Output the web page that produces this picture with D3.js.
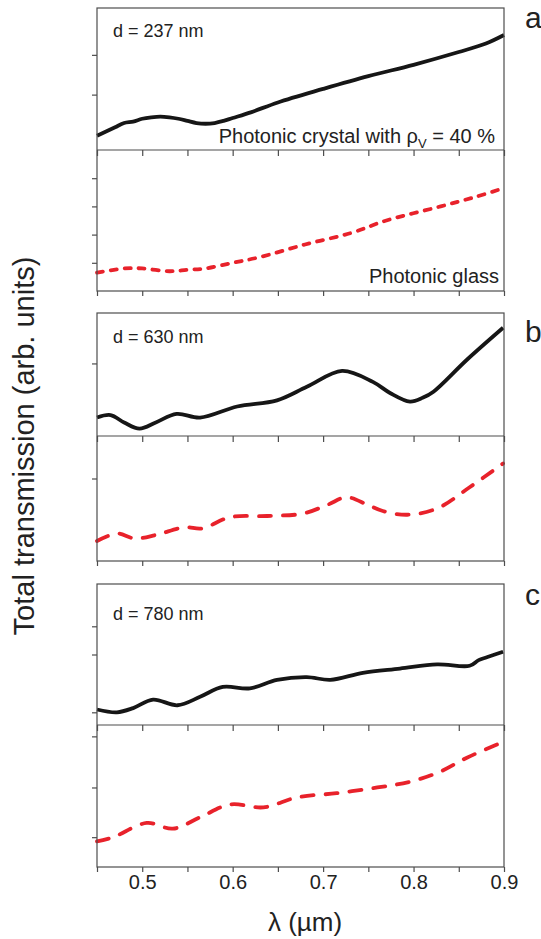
<!DOCTYPE html>
<html>
<head>
<meta charset="utf-8">
<script src="https://cdn.jsdelivr.net/npm/d3@7"></script>
<style>
  html, body { margin: 0; padding: 0; background: #fff; }
  svg { display: block; font-family: "Liberation Sans", Arial, sans-serif; }
</style>
</head>
<body>
<div id="chart"></div>
<script>
// wavelength axis (µm)
const xDomain = [0.45, 0.9];
const xMinorTicks = [0.45, 0.5, 0.55, 0.6, 0.65, 0.7, 0.75, 0.8, 0.85, 0.9];
const xTickLabels = [0.5, 0.6, 0.7, 0.8, 0.9];

// panel a, d = 237 nm
const wlA1 = [0.45, 0.46, 0.47, 0.48, 0.49, 0.50, 0.51, 0.52, 0.53, 0.54, 0.55, 0.56, 0.57, 0.58, 0.59, 0.60, 0.62, 0.65, 0.70, 0.75, 0.80, 0.85, 0.88, 0.90];
const tA1 = [0.10, 0.13, 0.16, 0.19, 0.20, 0.22, 0.23, 0.235, 0.23, 0.22, 0.205, 0.19, 0.185, 0.19, 0.205, 0.225, 0.265, 0.335, 0.43, 0.52, 0.60, 0.69, 0.75, 0.81];
const wlA2 = [0.45, 0.48, 0.50, 0.53, 0.55, 0.57, 0.60, 0.63, 0.68, 0.73, 0.77, 0.83, 0.87, 0.90];
const tA2 = [0.13, 0.16, 0.16, 0.14, 0.15, 0.16, 0.20, 0.24, 0.33, 0.41, 0.50, 0.60, 0.67, 0.73];

// panel b, d = 630 nm
const wlB1 = [0.45, 0.465, 0.48, 0.497, 0.515, 0.538, 0.564, 0.605, 0.649, 0.682, 0.721, 0.755, 0.774, 0.796, 0.81, 0.822, 0.859, 0.899];
const tB1 = [0.15, 0.17, 0.11, 0.06, 0.11, 0.18, 0.15, 0.24, 0.29, 0.40, 0.53, 0.44, 0.35, 0.28, 0.31, 0.36, 0.62, 0.88];
const wlB2 = [0.45, 0.472, 0.492, 0.516, 0.547, 0.566, 0.597, 0.638, 0.678, 0.705, 0.726, 0.749, 0.766, 0.793, 0.826, 0.862, 0.899];
const tB2 = [0.16, 0.22, 0.18, 0.21, 0.27, 0.26, 0.35, 0.36, 0.38, 0.45, 0.51, 0.45, 0.40, 0.37, 0.42, 0.59, 0.78];

// panel c, d = 780 nm
const wlC1 = [0.45, 0.472, 0.49, 0.512, 0.539, 0.564, 0.589, 0.619, 0.649, 0.682, 0.708, 0.744, 0.785, 0.826, 0.862, 0.872, 0.881, 0.899];
const tC1 = [0.11, 0.09, 0.12, 0.18, 0.14, 0.20, 0.27, 0.26, 0.32, 0.34, 0.32, 0.37, 0.40, 0.43, 0.42, 0.46, 0.48, 0.52];
const wlC2 = [0.45, 0.468, 0.505, 0.534, 0.564, 0.597, 0.634, 0.671, 0.715, 0.76, 0.796, 0.829, 0.859, 0.899];
const tC2 = [0.18, 0.21, 0.31, 0.27, 0.35, 0.44, 0.42, 0.49, 0.52, 0.56, 0.60, 0.67, 0.77, 0.88];

// left ticks (arb. units) for each sub-plot
const yTicksA1 = [0.39, 0.67];
const yTicksA2 = [0.2, 0.4, 0.6, 0.8];
const yTicksB1 = [0.59];
const yTicksB2 = [0.66];
const yTicksC1 = [0.09, 0.5, 0.7];
const yTicksC2 = [0.21, 0.56, 0.92];

const panelLabels = ['a', 'b', 'c'];
const thicknessLabels = ['d = 237 nm', 'd = 630 nm', 'd = 780 nm'];

const BLACK = '#161616';
const RED = '#e8222b';
const FRAME = '#4d4d4d';

const width = 541, height = 939;
const left = 97, right = 504;

// sub-plot boxes: top, middle divider, bottom
const panels = [
  { top: 8, mid: 150, bottom: 291, crystal: [wlA1, tA1], glass: [wlA2, tA2], ticks1: yTicksA1, ticks2: yTicksA2, dash: '6,8', textY: 37, labelY: 28 },
  { top: 313, mid: 436, bottom: 561, crystal: [wlB1, tB1], glass: [wlB2, tB2], ticks1: yTicksB1, ticks2: yTicksB2, dash: '12,12', textY: 343, labelY: 342 },
  { top: 584, mid: 725, bottom: 867, crystal: [wlC1, tC1], glass: [wlC2, tC2], ticks1: yTicksC1, ticks2: yTicksC2, dash: '12,12', textY: 620, labelY: 605 },
];

const svg = d3.select('#chart').append('svg')
  .attr('width', width)
  .attr('height', height);

const x = d3.scaleLinear().domain(xDomain).range([left, right]);

const line = (yScale) => d3.line()
  .x(d => x(d[0]))
  .y(d => yScale(d[1]))
  .curve(d3.curveCatmullRom.alpha(0.5));

panels.forEach((p, i) => {
  const g = svg.append('g');
  const y1 = d3.scaleLinear().domain([0, 1]).range([p.mid, p.top]);
  const y2 = d3.scaleLinear().domain([0, 1]).range([p.bottom, p.mid]);

  // curves
  g.append('path')
    .datum(d3.zip(p.crystal[0], p.crystal[1]))
    .attr('d', line(y1))
    .attr('fill', 'none')
    .attr('stroke', BLACK)
    .attr('stroke-width', 3.8)
    .attr('stroke-linejoin', 'round');

  g.append('path')
    .datum(d3.zip(p.glass[0], p.glass[1]))
    .attr('d', line(y2))
    .attr('fill', 'none')
    .attr('stroke', RED)
    .attr('stroke-width', 3.8)
    .attr('stroke-linecap', 'round')
    .attr('stroke-dasharray', p.dash);

  // frame
  g.append('rect')
    .attr('x', left).attr('y', p.top)
    .attr('width', right - left).attr('height', p.bottom - p.top)
    .attr('fill', 'none').attr('stroke', FRAME).attr('stroke-width', 1.2);
  g.append('line')
    .attr('x1', left).attr('x2', right)
    .attr('y1', p.mid).attr('y2', p.mid)
    .attr('stroke', FRAME).attr('stroke-width', 1.2);

  // left ticks, outward
  g.append('g')
    .attr('transform', `translate(${left},0)`)
    .call(d3.axisLeft(y1).tickValues(p.ticks1).tickSize(5).tickFormat(''))
    .call(a => a.select('.domain').remove());
  g.append('g')
    .attr('transform', `translate(${left},0)`)
    .call(d3.axisLeft(y2).tickValues(p.ticks2).tickSize(5).tickFormat(''))
    .call(a => a.select('.domain').remove());

  // x ticks: inward on the divider, outward at the bottom
  g.append('g')
    .attr('transform', `translate(0,${p.mid})`)
    .call(d3.axisBottom(x).tickValues(xMinorTicks).tickSize(6).tickFormat(''))
    .call(a => a.select('.domain').remove());
  g.append('g')
    .attr('transform', `translate(0,${p.bottom})`)
    .call(d3.axisBottom(x).tickValues(xMinorTicks).tickSize(5).tickFormat(''))
    .call(a => a.select('.domain').remove());

  g.selectAll('.tick line').attr('stroke', FRAME).attr('stroke-width', 1.2);

  // annotations
  g.append('text')
    .attr('x', 113).attr('y', p.textY)
    .attr('font-size', 18).attr('fill', '#222')
    .text(thicknessLabels[i]);

  g.append('text')
    .attr('x', 525).attr('y', p.labelY)
    .attr('font-size', 30).attr('fill', '#222')
    .text(panelLabels[i]);
});

// labels inside panel a
const crystalText = svg.append('text')
  .attr('x', 495).attr('y', 143)
  .attr('text-anchor', 'end')
  .attr('font-size', 20).attr('fill', '#222');
crystalText.append('tspan').text('Photonic crystal with ρ');
crystalText.append('tspan').attr('font-size', 13).attr('dy', 5).text('V');
crystalText.append('tspan').attr('dy', -5).text(' = 40 %');

svg.append('text')
  .attr('x', 499).attr('y', 283)
  .attr('text-anchor', 'end')
  .attr('font-size', 20).attr('fill', '#222')
  .text('Photonic glass');

// x tick labels on the last panel
svg.append('g')
  .attr('transform', `translate(0,${panels[2].bottom})`)
  .call(d3.axisBottom(x).tickValues(xTickLabels).tickSize(0).tickPadding(8).tickFormat(d3.format('.1f')))
  .call(a => a.select('.domain').remove())
  .call(a => a.selectAll('text')
    .attr('font-size', 20)
    .attr('fill', '#222')
    .attr('font-family', '"Liberation Sans", Arial, sans-serif'));

// axis titles
svg.append('text')
  .attr('x', 305).attr('y', 931)
  .attr('text-anchor', 'middle')
  .attr('font-size', 26).attr('fill', '#222')
  .text('λ (µm)');

svg.append('text')
  .attr('transform', 'translate(34,446) rotate(-90)')
  .attr('text-anchor', 'middle')
  .attr('font-size', 29).attr('fill', '#222')
  .text('Total transmission (arb. units)');
</script>
</body>
</html>
